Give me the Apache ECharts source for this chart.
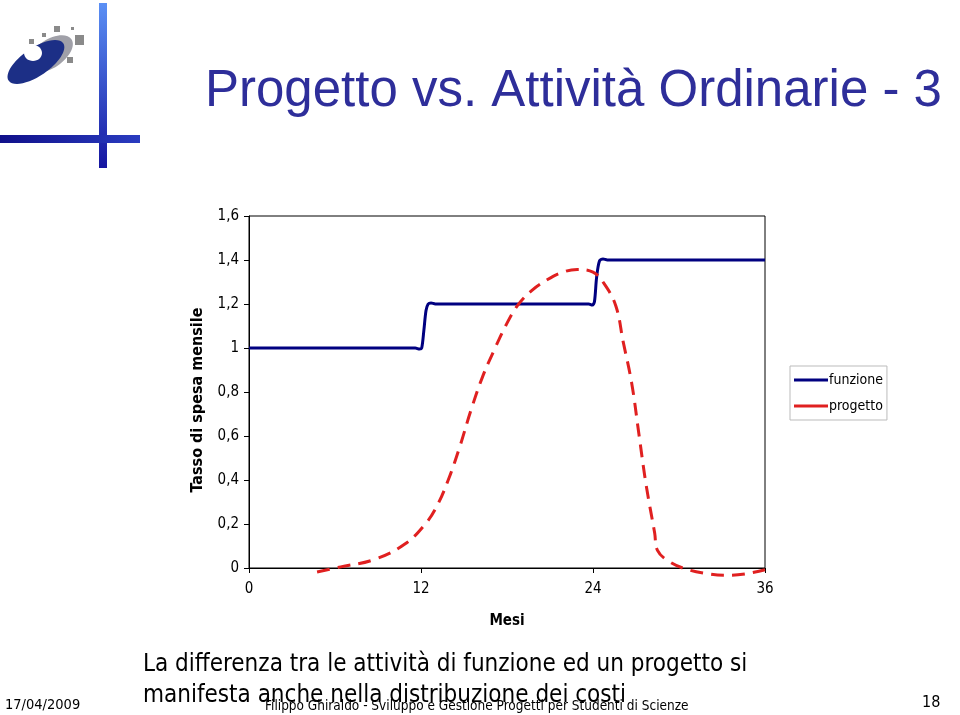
<!DOCTYPE html>
<html><head><meta charset="utf-8">
<script src="https://cdn.jsdelivr.net/npm/echarts@6/dist/echarts.min.js"></script>
<style>html,body{margin:0;padding:0;background:#fff}#c{width:960px;height:715px}</style>
</head><body><div id="c"></div>
<script>
// Data
const title = 'Progetto vs. Attività Ordinarie - 3';
const xTicks = [0, 12, 24, 36];
const yTicks = [0, 0.2, 0.4, 0.6, 0.8, 1, 1.2, 1.4, 1.6];
const yName = 'Tasso di spesa mensile';
const xName = 'Mesi';
const funzioneMesi = [0, 11.6, 11.9, 12.05, 12.2, 12.35, 12.5, 12.7, 13, 23.7, 23.95, 24.1, 24.25, 24.45, 24.7, 25, 36];
const funzioneVal  = [1, 1, 0.995, 1.0, 1.08, 1.17, 1.2, 1.205, 1.2, 1.2, 1.195, 1.21, 1.32, 1.395, 1.405, 1.4, 1.4];
const progettoMesi = [4.75, 6.4, 8.8, 10.9, 12.3, 13.1, 13.9, 14.7, 15.5, 16.3, 17.1, 17.9, 18.7, 19.7, 20.8, 21.9, 22.9, 24.0, 24.8, 25.6, 26.1, 26.7, 27.2, 27.7, 28.3, 28.5, 29.3, 30.4, 32.0, 33.3, 34.7, 36];
const progettoVal  = [-0.018, 0.005, 0.04, 0.11, 0.2, 0.28, 0.40, 0.55, 0.72, 0.87, 0.99, 1.10, 1.19, 1.26, 1.31, 1.345, 1.357, 1.345, 1.29, 1.19, 1.03, 0.84, 0.61, 0.38, 0.16, 0.08, 0.03, -0.003, -0.026, -0.033, -0.026, -0.008];
const bodyText = ['La differenza tra le attività di funzione ed un progetto si', 'manifesta anche nella distribuzione dei costi'];
const footerDate = '17/04/2009';
const footerText = 'Filippo Ghiraldo - Sviluppo e Gestione Progetti per Studenti di Scienze';
const pageNum = '18';

const F = '"DejaVu Sans Condensed", "DejaVu Sans", sans-serif';
const chart = echarts.init(document.getElementById('c'));
const zip = (a, b) => a.map((v, i) => [v, b[i]]);
const fmt = v => String(Math.round(v * 10) / 10).replace('.', ',');

chart.setOption({
  animation: false,
  backgroundColor: '#fff',
  grid: { left: 249, right: 195, top: 216, bottom: 147, show: true, borderColor: '#000', borderWidth: 1, backgroundColor: 'transparent' },
  xAxis: {
    type: 'value', min: 0, max: 36, interval: 12,
    name: xName, nameLocation: 'middle', nameGap: 46,
    nameTextStyle: { fontFamily: F, fontWeight: 'bold', fontSize: 15, color: '#000' },
    axisLine: { lineStyle: { color: '#000', width: 1 } },
    axisTick: { show: true, length: 5, lineStyle: { color: '#000' } },
    axisLabel: { fontFamily: F, fontSize: 15, color: '#000', margin: 14 },
    splitLine: { show: false }
  },
  yAxis: {
    type: 'value', min: 0, max: 1.6, interval: 0.2,
    axisLine: { show: true, lineStyle: { color: '#000', width: 1 } },
    axisTick: { show: true, length: 5, lineStyle: { color: '#000' } },
    axisLabel: { fontFamily: F, fontSize: 15, color: '#000', margin: 10, formatter: fmt },
    splitLine: { show: false }
  },
  legend: {
    orient: 'vertical', left: 790, top: 366, itemWidth: 34, itemHeight: 3, itemGap: 12,
    padding: [7, 4, 7, 4], borderColor: '#bbb', borderWidth: 1, icon: 'rect',
    textStyle: { fontFamily: F, fontSize: 14, color: '#000', padding: [0, 0, 0, -4] },
    data: ['funzione', 'progetto']
  },
  series: [
    { name: 'funzione', type: 'line', data: zip(funzioneMesi, funzioneVal), smooth: 0.3, showSymbol: false,
      color: '#000080', lineStyle: { color: '#000080', width: 3 } },
    { name: 'progetto', type: 'line', data: zip(progettoMesi, progettoVal), smooth: 0.4, showSymbol: false, clip: false,
      color: '#e02020', lineStyle: { color: '#e02020', width: 3, type: [13, 8] } }
  ],
  graphic: [
    // decorative bars
    { type: 'rect', shape: { x: 99, y: 3, width: 8, height: 165 },
      style: { fill: new echarts.graphic.LinearGradient(0, 0, 0, 1, [{ offset: 0, color: '#5b90f5' }, { offset: 1, color: '#1515a0' }]) } },
    { type: 'rect', shape: { x: 0, y: 135, width: 140, height: 8 },
      style: { fill: new echarts.graphic.LinearGradient(0, 0, 1, 0, [{ offset: 0, color: '#10108a' }, { offset: 1, color: '#2a3cc0' }]) } },
    // logo
    { type: 'ellipse', shape: { cx: 50, cy: 54, rx: 26, ry: 14 }, rotation: 0.6, originX: 50, originY: 54, style: { fill: '#a0a0a8' } },
    { type: 'ellipse', shape: { cx: 36, cy: 62, rx: 33, ry: 14 }, rotation: 0.6, originX: 36, originY: 62, style: { fill: '#1c2f86' } },
    { type: 'ellipse', shape: { cx: 33, cy: 53, rx: 9, ry: 8 }, style: { fill: '#fff' } },
    { type: 'rect', shape: { x: 29, y: 39, width: 5, height: 5 }, style: { fill: '#8a8a8a' } },
    { type: 'rect', shape: { x: 42, y: 33, width: 4, height: 4 }, style: { fill: '#8a8a8a' } },
    { type: 'rect', shape: { x: 54, y: 26, width: 6, height: 6 }, style: { fill: '#8a8a8a' } },
    { type: 'rect', shape: { x: 71, y: 27, width: 3, height: 3 }, style: { fill: '#8a8a8a' } },
    { type: 'rect', shape: { x: 75, y: 35, width: 9, height: 10 }, style: { fill: '#8a8a8a' } },
    { type: 'rect', shape: { x: 67, y: 57, width: 6, height: 6 }, style: { fill: '#8a8a8a' } },
    // title
    { type: 'text', x: 205, y: 92, style: { text: title, font: '51px "Liberation Sans", Arial, sans-serif', fill: '#2e2e9a', verticalAlign: 'middle' } },
    // y axis name
    { type: 'text', x: 198, y: 400, rotation: Math.PI / 2, style: { text: yName, font: 'bold 16px ' + F, fill: '#000', align: 'center', verticalAlign: 'middle' } },
    // body text
    { type: 'text', x: 143, y: 665, style: { text: bodyText[0], font: '24px ' + F, fill: '#000', verticalAlign: 'middle' } },
    { type: 'text', x: 143, y: 696, style: { text: bodyText[1], font: '24px ' + F, fill: '#000', verticalAlign: 'middle' } },
    // footer
    { type: 'text', x: 5, y: 705, style: { text: footerDate, font: '14.5px ' + F, fill: '#000', verticalAlign: 'middle' } },
    { type: 'text', x: 265, y: 706, style: { text: footerText, font: '13.5px ' + F, fill: '#000', verticalAlign: 'middle' } },
    { type: 'text', x: 922, y: 703, style: { text: pageNum, font: '16px ' + F, fill: '#000', verticalAlign: 'middle' } }
  ]
});
</script></body></html>
